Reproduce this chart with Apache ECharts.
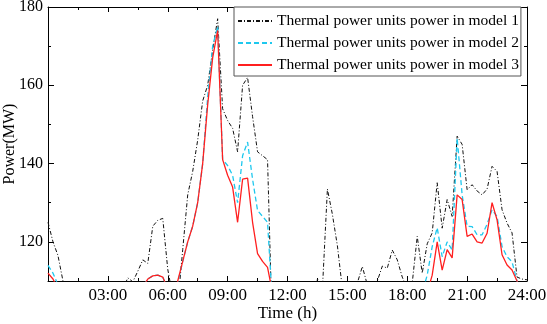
<!DOCTYPE html>
<html>
<head>
<meta charset="utf-8">
<script src="https://cdn.jsdelivr.net/npm/echarts@6/dist/echarts.min.js"></script>
<style>
  html, body { margin: 0; padding: 0; background: #fff; }
  #chart { width: 547px; height: 324px; }
</style>
</head>
<body>
<div id="chart"></div>
<script>
// 15-minute samples, 00:00 .. 24:00 (97 points). Values under 110 MW sit below the frame.
const hours = Array.from({ length: 97 }, (_, i) => i / 4);

const model1 = [
  125, 120, 116.5, 110,   104, 100, 100, 100,   100, 100, 100, 100,   100, 100, 104, 108,
  110.8, 109.8, 112.5, 115.4,   114.5, 124, 125.5, 126,   113, 106, 104, 118,   132, 138, 146, 156,
  160, 169, 177, 154,   151, 149, 143, 160,   162, 152, 143, 142,   141, 95, 95, 95,
  95, 95, 95, 95,   95, 100, 110.5, 108,   133.5, 127, 119, 108,   100, 104, 109.5, 113.7,
  109, 104, 110, 113.8,   113.3, 117.9, 115.4, 111,   108, 109.5, 121.4, 112,   119.5, 122.3, 135.1, 123.5,
  130.8, 126.5, 147, 144.9,   133.3, 134.6, 133, 132,   133.5, 139.3, 138, 128.2,   124.8, 122.3, 111, 110.5,
  110.3
];
const model2 = [
  114, 112, 109, 104,   100, 100, 100, 100,   100, 100, 100, 100,   100, 100, 100, 100,
  100, 100, 104, 108.5,   110.5, 111.3, 111.5, 111,   108, 104, 109.5, 115,   120, 124, 130, 140,
  157, 170, 175, 141,   139.5, 137, 130, 142,   145.5, 136, 128, 126.5,   125, 104, 100, 100,
  100, 100, 100, 100,   100, 100, 100, 100,   100, 100, 100, 100,   100, 100, 100, 100,
  100, 100, 100, 100,   100, 100, 100, 100,   100, 100, 104, 107,   111.5, 118.8, 123.6, 116.2,
  120, 117.9, 146.5, 132,   124, 123.9, 121.8, 121.8,   124.5, 128.2, 126.5, 118.8,   116.2, 114.9, 110, 107,
  104
];
const model3 = [
  112, 110.5, 108, 104,   100, 100, 100, 100,   100, 100, 100, 100,   100, 100, 100, 100,
  100, 100, 104, 108.5,   110.5, 111.3, 111.5, 111,   108, 104, 110, 115,   120, 124, 130, 140,
  155, 167, 174, 141,   137, 134, 125, 136,   136.3, 125, 117, 115,   113.5, 107, 100, 100,
  100, 100, 100, 100,   100, 100, 100, 100,   100, 100, 100, 100,   100, 100, 100, 100,
  100, 100, 100, 100,   100, 100, 100, 100,   100, 100, 100, 104,   107, 111.5, 120, 112.8,
  118, 115.9, 132, 130.8,   121.4, 122, 120, 119.7,   122.2, 130, 125.6, 116.7,   114.1, 112.8, 110, 107,
  104
];

const seriesNames = [
  "Thermal power units power in model 1",
  "Thermal power units power in model 2",
  "Thermal power units power in model 3",
];
const xTickLabels = ["03:00", "06:00", "09:00", "12:00", "15:00", "18:00", "21:00", "24:00"];
const yTicks = [120, 140, 160, 180];
const yMinorTicks = [130, 150, 170];

const FONT = "Liberation Serif";
const pairs = (vals) => vals.map((v, i) => [hours[i], v]);

function xAxis(position, labels) {
  return {
    type: "value", position, min: 0, max: 24, interval: 3,
    axisLine: { show: true, onZero: false, lineStyle: { color: "#000", width: 1 } },
    axisTick: { show: true, inside: true, length: 5, lineStyle: { color: "#000" } },
    minorTick: { show: true, splitNumber: 2, length: 3, lineStyle: { color: "#000" } },
    splitLine: { show: false },
    axisLabel: {
      show: labels, margin: 6, color: "#000", fontFamily: FONT, fontSize: 17,
      formatter: (v) => (v === 0 ? "" : xTickLabels[v / 3 - 1]),
    },
    name: labels ? "Time (h)" : "",
    nameLocation: "middle", nameGap: 24, nameMoveOverlap: false,
    nameTextStyle: { color: "#000", fontFamily: FONT, fontSize: 17, verticalAlign: "top" },
  };
}

function yAxis(position, ticks, len, labels, line) {
  return {
    type: "value", position, min: 110, max: 180,
    axisLine: { show: line, onZero: false, lineStyle: { color: "#000", width: 1 } },
    axisTick: { show: true, inside: true, length: len, customValues: ticks, lineStyle: { color: "#000" } },
    splitLine: { show: false },
    axisLabel: {
      show: labels, customValues: yTicks, margin: 5, color: "#000", fontFamily: FONT, fontSize: 16,
    },
    name: labels ? "Power(MW)" : "",
    nameLocation: "middle", nameGap: 30, nameMoveOverlap: false,
    nameTextStyle: { color: "#000", fontFamily: FONT, fontSize: 16 },
  };
}

const styles = [
  { color: "#111", width: 1, type: [4, 2, 1, 2] },
  { color: "#1ec8ee", width: 1.3, type: [5, 3] },
  { color: "#ff1f1f", width: 1.3, type: "solid" },
];

const chart = echarts.init(document.getElementById("chart"), null, { renderer: "canvas" });
chart.setOption({
  animation: false,
  backgroundColor: "#fff",
  grid: { left: 48, right: 20, top: 7, bottom: 43, containLabel: false, outerBoundsMode: "none" },
  legend: {
    orient: "vertical", left: 234, top: 7,
    padding: [6, 2, 3, 3], itemGap: 6, itemWidth: 34, itemHeight: 14,
    borderColor: "#555", borderWidth: 1, backgroundColor: "#fff",
    itemStyle: { opacity: 0 },
    textStyle: { color: "#000", fontFamily: FONT, fontSize: 15.5 },
    data: seriesNames,
  },
  xAxis: [xAxis("bottom", true), xAxis("top", false)],
  yAxis: [
    yAxis("left", yTicks, 6, true, true),
    yAxis("left", yMinorTicks, 3, false, false),
    yAxis("right", yTicks, 6, false, true),
    yAxis("right", yMinorTicks, 3, false, false),
  ],
  series: [model1, model2, model3].map((vals, k) => ({
    name: seriesNames[k],
    type: "line",
    xAxisIndex: 0, yAxisIndex: 0,
    data: pairs(vals),
    symbol: "none",
    clip: true,
    color: styles[k].color,
    lineStyle: styles[k],
  })),
});
</script>
</body>
</html>
